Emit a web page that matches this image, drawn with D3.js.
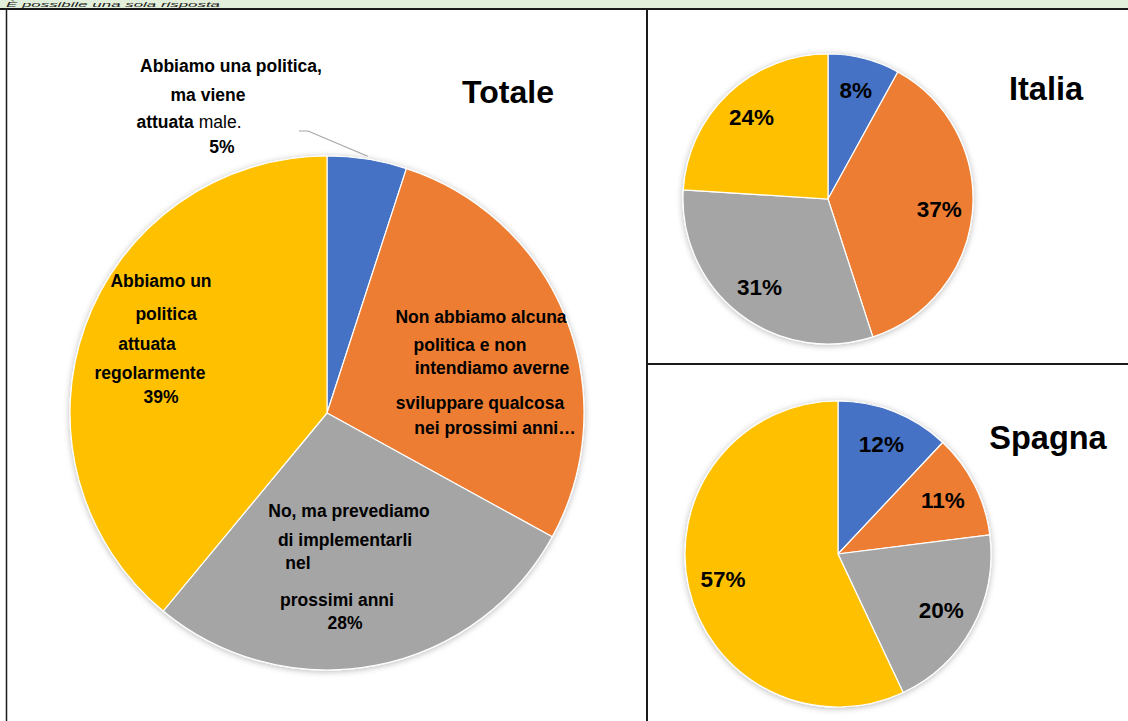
<!DOCTYPE html>
<html><head><meta charset="utf-8">
<script src="https://cdn.jsdelivr.net/npm/d3@7"></script>
<style>
html,body{margin:0;padding:0;background:#fff;}
svg{display:block;font-family:"Liberation Sans",Arial,sans-serif;}
</style></head>
<body>
<svg id="chart" width="1128" height="721"></svg>
<script>
// ---- data ----
const categories = [
  "Abbiamo una politica, ma viene attuata male.",
  "Non abbiamo alcuna politica e non intendiamo averne sviluppare qualcosa nei prossimi anni",
  "No, ma prevediamo di implementarli nel prossimi anni",
  "Abbiamo un politica attuata regolarmente"
];
const totaleValues = [5, 28, 28, 39];
const italiaValues = [8, 37, 31, 24];
const spagnaValues = [12, 11, 20, 57];
const colors = ["#4472C4", "#ED7D31", "#A5A5A5", "#FFC000"];
const headerText = "È possibile una sola risposta";

// label lines for Totale (bold parts / normal parts)
const totaleLabelLines = [
  [[{t:"Abbiamo una politica,",b:true}],[{t:"ma viene",b:true}],[{t:"attuata",b:true},{t:" male.",b:false}],[{t:"5%",b:true}]],
  [[{t:"Non abbiamo alcuna",b:true}],[{t:"politica e non",b:true}],[{t:"intendiamo averne",b:true}],[{t:"sviluppare qualcosa",b:true}],[{t:"nei prossimi anni…",b:true}]],
  [[{t:"No, ma prevediamo",b:true}],[{t:"di implementarli",b:true}],[{t:"nel",b:true}],[{t:"prossimi anni",b:true}],[{t:"28%",b:true}]],
  [[{t:"Abbiamo un",b:true}],[{t:"politica",b:true}],[{t:"attuata",b:true}],[{t:"regolarmente",b:true}],[{t:"39%",b:true}]]
];
// layout offsets (relative to Totale pie centre) for each label line
const totaleLabelPos = [
  [[-96,-347],[-119,-318],[-138,-291],[-105,-266]],
  [[154,-96],[143,-68],[165,-45],[153,-10],[168,15]],
  [[22,98],[18,127],[-29,150],[10,187],[18,210]],
  [[-166,-132],[-161,-99],[-180,-69],[-177,-40],[-166,-16]]
];

const svg = d3.select("#chart");

// shadow filter
const defs = svg.append("defs");
const f = defs.append("filter").attr("id","sh").attr("x","-20%").attr("y","-20%").attr("width","140%").attr("height","140%");
f.append("feDropShadow").attr("dx",0).attr("dy",1).attr("stdDeviation",3).attr("flood-color","#000").attr("flood-opacity",0.28);

// header strip
svg.append("rect").attr("x",0).attr("y",0).attr("width",1128).attr("height",9).attr("fill","#E2EFDA");
svg.append("text").attr("x",6).attr("y",7.4).attr("font-size",8).attr("font-style","italic").attr("fill","#222")
  .attr("textLength",214).attr("lengthAdjust","spacingAndGlyphs").text(headerText);
svg.append("line").attr("x1",0).attr("x2",1128).attr("y1",9).attr("y2",9).attr("stroke","#1a1a1a").attr("stroke-width",2);
// frame lines
svg.append("line").attr("x1",6.5).attr("x2",6.5).attr("y1",9).attr("y2",721).attr("stroke","#1a1a1a").attr("stroke-width",1.5);
svg.append("line").attr("x1",647).attr("x2",647).attr("y1",9).attr("y2",721).attr("stroke","#1a1a1a").attr("stroke-width",2);
svg.append("line").attr("x1",647).attr("x2",1128).attr("y1",364).attr("y2",364).attr("stroke","#1a1a1a").attr("stroke-width",2);

const pie = d3.pie().sort(null).value(d => d);
const color = d3.scaleOrdinal().domain(d3.range(categories.length)).range(colors);

function drawPie(values, cx, cy, r) {
  const g = svg.append("g").attr("transform", `translate(${cx},${cy})`);
  const arcs = pie(values);
  const arc = d3.arc().innerRadius(0).outerRadius(r);
  const gs = g.append("g").attr("filter","url(#sh)");
  gs.selectAll("path").data(arcs).join("path")
    .attr("d", arc)
    .attr("fill", (d,i) => color(i))
    .attr("stroke", "#fff").attr("stroke-width", 1.2);
  return {g, arcs, r};
}

// Totale
const tot = drawPie(totaleValues, 327, 413, 257);
const a0 = Math.PI * totaleValues[0] / 100;
svg.append("polyline")
  .attr("points", `299,131 308,131 ${327+(257+3)*Math.sin(a0)},${413-(257+3)*Math.cos(a0)}`)
  .attr("fill","none").attr("stroke","#A5A5A5").attr("stroke-width",1.2);
totaleLabelLines.forEach((lines, i) => {
  lines.forEach((segs, j) => {
    const p = totaleLabelPos[i][j];
    const t = tot.g.append("text")
      .attr("x", p[0]).attr("y", p[1])
      .attr("text-anchor","middle").attr("dominant-baseline","central")
      .attr("font-size",17.5).attr("fill","#000");
    segs.forEach(s => t.append("tspan").attr("font-weight", s.b ? "bold" : "normal").text(s.t));
  });
});
svg.append("text").attr("x",508).attr("y",92).attr("text-anchor","middle").attr("dominant-baseline","central")
  .attr("font-size",32).attr("font-weight","bold").text("Totale");

function smallPie(values, cx, cy, r, title, tx, ty) {
  const p = drawPie(values, cx, cy, r);
  const la = d3.arc().innerRadius(r*0.77).outerRadius(r*0.77);
  p.g.selectAll("text.pct").data(p.arcs).join("text").attr("class","pct")
    .attr("transform", d => `translate(${la.centroid(d)})`)
    .attr("text-anchor","middle").attr("dominant-baseline","central")
    .attr("font-size",22.5).attr("font-weight","bold").attr("fill","#000")
    .text(d => d.data + "%");
  svg.append("text").attr("x",tx).attr("y",ty).attr("text-anchor","middle").attr("dominant-baseline","central")
    .attr("font-size",32.5).attr("font-weight","bold").text(title);
}
smallPie(italiaValues, 828, 199, 145, "Italia", 1046, 89);
smallPie(spagnaValues, 838, 554, 153, "Spagna", 1048, 438);
</script>
</body></html>
